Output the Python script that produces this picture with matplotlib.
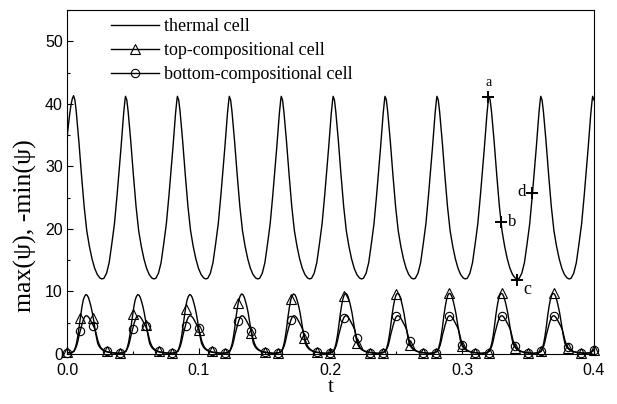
import matplotlib
matplotlib.use('Agg')
import matplotlib.pyplot as plt
from matplotlib.lines import Line2D
from matplotlib.ticker import MultipleLocator, FormatStrFormatter

# ---------------- data ----------------
thermal_t = [
    0.000, 0.001, 0.002, 0.003, 0.004,
    0.005, 0.006, 0.007, 0.008, 0.009, 0.011, 0.013, 0.015, 0.017, 0.019, 0.021, 0.023, 0.025, 0.0265, 0.028, 0.030, 0.032, 0.034, 0.036, 0.038, 0.040, 0.041, 0.042, 0.043, 0.044,
    0.0444, 0.0454, 0.0464, 0.0474, 0.0484, 0.0504, 0.0524, 0.0544, 0.0564, 0.0584, 0.0604, 0.0624, 0.0644, 0.0659, 0.0674, 0.0694, 0.0714, 0.0734, 0.0754, 0.0774, 0.0794, 0.0804, 0.0814, 0.0824, 0.0834,
    0.0838, 0.0848, 0.0858, 0.0868, 0.0878, 0.0898, 0.0918, 0.0938, 0.0958, 0.0978, 0.0998, 0.1018, 0.1038, 0.1053, 0.1068, 0.1088, 0.1108, 0.1128, 0.1148, 0.1168, 0.1188, 0.1198, 0.1208, 0.1218, 0.1228,
    0.1232, 0.1242, 0.1252, 0.1262, 0.1272, 0.1292, 0.1312, 0.1332, 0.1352, 0.1372, 0.1392, 0.1412, 0.1432, 0.1447, 0.1462, 0.1482, 0.1502, 0.1522, 0.1542, 0.1562, 0.1582, 0.1592, 0.1602, 0.1612, 0.1622,
    0.1626, 0.1636, 0.1646, 0.1656, 0.1666, 0.1686, 0.1706, 0.1726, 0.1746, 0.1766, 0.1786, 0.1806, 0.1826, 0.1841, 0.1856, 0.1876, 0.1896, 0.1916, 0.1936, 0.1956, 0.1976, 0.1986, 0.1996, 0.2006, 0.2016,
    0.2020, 0.2030, 0.2040, 0.2050, 0.2060, 0.2080, 0.2100, 0.2120, 0.2140, 0.2160, 0.2180, 0.2200, 0.2220, 0.2235, 0.2250, 0.2270, 0.2290, 0.2310, 0.2330, 0.2350, 0.2370, 0.2380, 0.2390, 0.2400, 0.2410,
    0.2414, 0.2424, 0.2434, 0.2444, 0.2454, 0.2474, 0.2494, 0.2514, 0.2534, 0.2554, 0.2574, 0.2594, 0.2614, 0.2629, 0.2644, 0.2664, 0.2684, 0.2704, 0.2724, 0.2744, 0.2764, 0.2774, 0.2784, 0.2794, 0.2804,
    0.2808, 0.2818, 0.2828, 0.2838, 0.2848, 0.2868, 0.2888, 0.2908, 0.2928, 0.2948, 0.2968, 0.2988, 0.3008, 0.3023, 0.3038, 0.3058, 0.3078, 0.3098, 0.3118, 0.3138, 0.3158, 0.3168, 0.3178, 0.3188, 0.3198,
    0.3202, 0.3212, 0.3222, 0.3232, 0.3242, 0.3262, 0.3282, 0.3302, 0.3322, 0.3342, 0.3362, 0.3382, 0.3402, 0.3417, 0.3432, 0.3452, 0.3472, 0.3492, 0.3512, 0.3532, 0.3552, 0.3562, 0.3572, 0.3582, 0.3592,
    0.3596, 0.3606, 0.3616, 0.3626, 0.3636, 0.3656, 0.3676, 0.3696, 0.3716, 0.3736, 0.3756, 0.3776, 0.3796, 0.3811, 0.3826, 0.3846, 0.3866, 0.3886, 0.3906, 0.3926, 0.3946, 0.3956, 0.3966, 0.3976, 0.3986,
    0.3990, 0.4000,
]
thermal_v = [
    34.5, 36.5, 38.3, 39.8, 40.8,
    41.3, 40.6, 38.8, 36.4, 34.0, 28.6, 23.6, 19.7, 17.2, 15.2, 13.7, 12.7, 12.15, 12.0, 12.1, 12.9, 14.6, 17.6, 20.8, 25.4, 30.4, 33.0, 35.8, 38.5, 40.6,
    41.2, 40.6, 38.8, 36.4, 34.0, 28.6, 23.6, 19.7, 17.2, 15.2, 13.7, 12.7, 12.15, 12.0, 12.1, 12.9, 14.6, 17.6, 20.8, 25.4, 30.4, 33.0, 35.8, 38.5, 40.6,
    41.2, 40.6, 38.8, 36.4, 34.0, 28.6, 23.6, 19.7, 17.2, 15.2, 13.7, 12.7, 12.15, 12.0, 12.1, 12.9, 14.6, 17.6, 20.8, 25.4, 30.4, 33.0, 35.8, 38.5, 40.6,
    41.2, 40.6, 38.8, 36.4, 34.0, 28.6, 23.6, 19.7, 17.2, 15.2, 13.7, 12.7, 12.15, 12.0, 12.1, 12.9, 14.6, 17.6, 20.8, 25.4, 30.4, 33.0, 35.8, 38.5, 40.6,
    41.2, 40.6, 38.8, 36.4, 34.0, 28.6, 23.6, 19.7, 17.2, 15.2, 13.7, 12.7, 12.15, 12.0, 12.1, 12.9, 14.6, 17.6, 20.8, 25.4, 30.4, 33.0, 35.8, 38.5, 40.6,
    41.2, 40.6, 38.8, 36.4, 34.0, 28.6, 23.6, 19.7, 17.2, 15.2, 13.7, 12.7, 12.15, 12.0, 12.1, 12.9, 14.6, 17.6, 20.8, 25.4, 30.4, 33.0, 35.8, 38.5, 40.6,
    41.2, 40.6, 38.8, 36.4, 34.0, 28.6, 23.6, 19.7, 17.2, 15.2, 13.7, 12.7, 12.15, 12.0, 12.1, 12.9, 14.6, 17.6, 20.8, 25.4, 30.4, 33.0, 35.8, 38.5, 40.6,
    41.2, 40.6, 38.8, 36.4, 34.0, 28.6, 23.6, 19.7, 17.2, 15.2, 13.7, 12.7, 12.15, 12.0, 12.1, 12.9, 14.6, 17.6, 20.8, 25.4, 30.4, 33.0, 35.8, 38.5, 40.6,
    41.2, 40.6, 38.8, 36.4, 34.0, 28.6, 23.6, 19.7, 17.2, 15.2, 13.7, 12.7, 12.15, 12.0, 12.1, 12.9, 14.6, 17.6, 20.8, 25.4, 30.4, 33.0, 35.8, 38.5, 40.6,
    41.2, 40.6, 38.8, 36.4, 34.0, 28.6, 23.6, 19.7, 17.2, 15.2, 13.7, 12.7, 12.15, 12.0, 12.1, 12.9, 14.6, 17.6, 20.8, 25.4, 30.4, 33.0, 35.8, 38.5, 40.6,
    41.2, 40.6,
]

comp_t = [
    0.0000, 0.0033, 0.0053, 0.0063, 0.0073, 0.0083, 0.0093, 0.0103, 0.0113, 0.0123, 0.0133, 0.0143, 0.0153, 0.0163, 0.0173, 0.0183, 0.0193, 0.0203, 0.0213, 0.0223, 0.0233, 0.0243, 0.0253, 0.0263, 0.0273, 0.0293, 0.0313, 0.0343,
    0.0387, 0.0427, 0.0447, 0.0457, 0.0467, 0.0477, 0.0487, 0.0497, 0.0507, 0.0517, 0.0527, 0.0537, 0.0547, 0.0557, 0.0567, 0.0577, 0.0587, 0.0597, 0.0607, 0.0617, 0.0627, 0.0637, 0.0647, 0.0657, 0.0667, 0.0687, 0.0707, 0.0737,
    0.0781, 0.0821, 0.0841, 0.0851, 0.0861, 0.0871, 0.0881, 0.0891, 0.0901, 0.0911, 0.0921, 0.0931, 0.0941, 0.0951, 0.0961, 0.0971, 0.0981, 0.0991, 0.1001, 0.1011, 0.1021, 0.1031, 0.1041, 0.1051, 0.1061, 0.1081, 0.1101, 0.1131,
    0.1175, 0.1215, 0.1235, 0.1245, 0.1255, 0.1265, 0.1275, 0.1285, 0.1295, 0.1305, 0.1315, 0.1325, 0.1335, 0.1345, 0.1355, 0.1365, 0.1375, 0.1385, 0.1395, 0.1405, 0.1415, 0.1425, 0.1435, 0.1445, 0.1455, 0.1475, 0.1495, 0.1525,
    0.1569, 0.1609, 0.1629, 0.1639, 0.1649, 0.1659, 0.1669, 0.1679, 0.1689, 0.1699, 0.1709, 0.1719, 0.1729, 0.1739, 0.1749, 0.1759, 0.1769, 0.1779, 0.1789, 0.1799, 0.1809, 0.1819, 0.1829, 0.1839, 0.1849, 0.1869, 0.1889, 0.1919,
    0.1963, 0.2003, 0.2023, 0.2033, 0.2043, 0.2053, 0.2063, 0.2073, 0.2083, 0.2093, 0.2103, 0.2113, 0.2123, 0.2133, 0.2143, 0.2153, 0.2163, 0.2173, 0.2183, 0.2193, 0.2203, 0.2213, 0.2223, 0.2233, 0.2243, 0.2263, 0.2283, 0.2313,
    0.2357, 0.2397, 0.2417, 0.2427, 0.2437, 0.2447, 0.2457, 0.2467, 0.2477, 0.2487, 0.2497, 0.2507, 0.2517, 0.2527, 0.2537, 0.2547, 0.2557, 0.2567, 0.2577, 0.2587, 0.2597, 0.2607, 0.2617, 0.2627, 0.2637, 0.2657, 0.2677, 0.2707,
    0.2751, 0.2791, 0.2811, 0.2821, 0.2831, 0.2841, 0.2851, 0.2861, 0.2871, 0.2881, 0.2891, 0.2901, 0.2911, 0.2921, 0.2931, 0.2941, 0.2951, 0.2961, 0.2971, 0.2981, 0.2991, 0.3001, 0.3011, 0.3021, 0.3031, 0.3051, 0.3071, 0.3101,
    0.3145, 0.3185, 0.3205, 0.3215, 0.3225, 0.3235, 0.3245, 0.3255, 0.3265, 0.3275, 0.3285, 0.3295, 0.3305, 0.3315, 0.3325, 0.3335, 0.3345, 0.3355, 0.3365, 0.3375, 0.3385, 0.3395, 0.3405, 0.3415, 0.3425, 0.3445, 0.3465, 0.3495,
    0.3539, 0.3579, 0.3599, 0.3609, 0.3619, 0.3629, 0.3639, 0.3649, 0.3659, 0.3669, 0.3679, 0.3689, 0.3699, 0.3709, 0.3719, 0.3729, 0.3739, 0.3749, 0.3759, 0.3769, 0.3779, 0.3789, 0.3799, 0.3809, 0.3819, 0.3839, 0.3859, 0.3889,
    0.3933, 0.3973, 0.4000,
]
top_v = [
    0.2, 0.2, 0.5, 1.0, 1.8, 3.0, 4.5, 6.1, 7.5, 8.6, 9.2, 9.5, 9.4, 9.0, 8.3, 7.5, 6.5, 5.3, 3.9, 2.7, 1.7, 1.25, 0.95, 0.75, 0.6, 0.4, 0.3, 0.2,
    0.1, 0.2, 0.5, 1.0, 1.8, 3.0, 4.5, 6.1, 7.5, 8.6, 9.2, 9.5, 9.4, 9.0, 8.3, 7.5, 6.5, 5.3, 3.9, 2.7, 1.7, 1.25, 0.95, 0.75, 0.6, 0.4, 0.3, 0.2,
    0.1, 0.2, 0.5, 1.0, 1.8, 3.0, 4.5, 6.1, 7.5, 8.6, 9.2, 9.5, 9.4, 9.0, 8.3, 7.5, 6.5, 5.3, 3.9, 2.7, 1.7, 1.25, 0.95, 0.75, 0.6, 0.4, 0.3, 0.2,
    0.1, 0.2, 0.5, 1.0, 1.8, 3.0, 4.5, 6.2, 7.6, 8.7, 9.3, 9.6, 9.5, 9.1, 8.4, 7.6, 6.6, 5.3, 3.9, 2.7, 1.7, 1.25, 0.95, 0.75, 0.6, 0.4, 0.3, 0.2,
    0.1, 0.2, 0.5, 1.0, 1.8, 3.0, 4.5, 6.2, 7.6, 8.7, 9.3, 9.6, 9.5, 9.1, 8.4, 7.6, 6.6, 5.3, 3.9, 2.7, 1.7, 1.25, 0.95, 0.75, 0.6, 0.4, 0.3, 0.2,
    0.1, 0.2, 0.5, 1.0, 1.8, 3.0, 4.5, 6.2, 7.6, 8.7, 9.4, 9.7, 9.6, 9.2, 8.5, 7.6, 6.6, 5.3, 3.9, 2.7, 1.7, 1.25, 0.95, 0.75, 0.6, 0.4, 0.3, 0.2,
    0.1, 0.2, 0.5, 1.0, 1.8, 3.0, 4.5, 6.2, 7.6, 8.7, 9.4, 9.7, 9.6, 9.2, 8.5, 7.6, 6.6, 5.3, 3.9, 2.7, 1.7, 1.25, 0.95, 0.75, 0.6, 0.4, 0.3, 0.2,
    0.1, 0.2, 0.5, 1.0, 1.8, 3.0, 4.5, 6.2, 7.6, 8.7, 9.4, 9.7, 9.6, 9.2, 8.5, 7.6, 6.6, 5.3, 3.9, 2.7, 1.7, 1.25, 0.95, 0.75, 0.6, 0.4, 0.3, 0.2,
    0.1, 0.2, 0.5, 1.0, 1.8, 3.0, 4.5, 6.2, 7.6, 8.7, 9.4, 9.7, 9.6, 9.2, 8.5, 7.6, 6.6, 5.3, 3.9, 2.7, 1.7, 1.25, 0.95, 0.75, 0.6, 0.4, 0.3, 0.2,
    0.1, 0.2, 0.5, 1.0, 1.8, 3.0, 4.5, 6.2, 7.6, 8.7, 9.4, 9.7, 9.6, 9.2, 8.5, 7.6, 6.6, 5.3, 3.9, 2.7, 1.7, 1.25, 0.95, 0.75, 0.6, 0.4, 0.3, 0.2,
    0.1, 0.2, 0.7,
]
bottom_v = [
    0.2, 0.2, 0.4, 0.8, 1.3, 2.1, 3.1, 3.9, 4.7, 5.4, 5.9, 6.1, 6.1, 5.9, 5.6, 5.2, 4.8, 4.4, 3.9, 3.1, 2.2, 1.6, 1.15, 0.9, 0.7, 0.45, 0.3, 0.2,
    0.1, 0.2, 0.4, 0.8, 1.3, 2.1, 3.1, 3.9, 4.7, 5.4, 5.9, 6.1, 6.1, 5.9, 5.6, 5.2, 4.8, 4.4, 3.9, 3.1, 2.2, 1.6, 1.15, 0.9, 0.7, 0.45, 0.3, 0.2,
    0.1, 0.2, 0.4, 0.8, 1.3, 2.1, 3.1, 3.9, 4.7, 5.4, 5.9, 6.1, 6.1, 5.9, 5.6, 5.2, 4.8, 4.4, 3.9, 3.1, 2.2, 1.6, 1.15, 0.9, 0.7, 0.45, 0.3, 0.2,
    0.1, 0.2, 0.4, 0.8, 1.3, 2.1, 3.1, 3.9, 4.7, 5.4, 5.9, 6.1, 6.1, 5.9, 5.6, 5.2, 4.8, 4.4, 3.9, 3.1, 2.2, 1.6, 1.15, 0.9, 0.7, 0.45, 0.3, 0.2,
    0.1, 0.2, 0.4, 0.8, 1.3, 2.1, 3.1, 3.9, 4.7, 5.4, 5.9, 6.1, 6.1, 5.9, 5.6, 5.2, 4.8, 4.4, 3.9, 3.1, 2.2, 1.6, 1.15, 0.9, 0.7, 0.45, 0.3, 0.2,
    0.1, 0.2, 0.4, 0.8, 1.3, 2.1, 3.1, 3.9, 4.7, 5.4, 5.9, 6.1, 6.1, 5.9, 5.6, 5.2, 4.8, 4.4, 3.9, 3.1, 2.2, 1.6, 1.15, 0.9, 0.7, 0.45, 0.3, 0.2,
    0.1, 0.2, 0.4, 0.8, 1.3, 2.1, 3.1, 3.9, 4.7, 5.4, 5.9, 6.1, 6.1, 5.9, 5.6, 5.2, 4.8, 4.4, 3.9, 3.1, 2.2, 1.6, 1.15, 0.9, 0.7, 0.45, 0.3, 0.2,
    0.1, 0.2, 0.4, 0.8, 1.3, 2.1, 3.1, 3.9, 4.7, 5.4, 5.9, 6.1, 6.1, 5.9, 5.6, 5.2, 4.8, 4.4, 3.9, 3.1, 2.2, 1.6, 1.15, 0.9, 0.7, 0.45, 0.3, 0.2,
    0.1, 0.2, 0.4, 0.8, 1.3, 2.1, 3.1, 3.9, 4.7, 5.4, 5.9, 6.1, 6.1, 5.9, 5.6, 5.2, 4.8, 4.4, 3.9, 3.1, 2.2, 1.6, 1.15, 0.9, 0.7, 0.45, 0.3, 0.2,
    0.1, 0.2, 0.4, 0.8, 1.3, 2.1, 3.1, 3.9, 4.7, 5.4, 5.9, 6.1, 6.1, 5.9, 5.6, 5.2, 4.8, 4.4, 3.9, 3.1, 2.2, 1.6, 1.15, 0.9, 0.7, 0.45, 0.3, 0.2,
    0.1, 0.2, 0.6,
]

marker_t = [0.00, 0.01, 0.02, 0.03, 0.04, 0.05, 0.06, 0.07, 0.08, 0.09,
            0.10, 0.11, 0.12, 0.13, 0.14, 0.15, 0.16, 0.17, 0.18, 0.19,
            0.20, 0.21, 0.22, 0.23, 0.24, 0.25, 0.26, 0.27, 0.28, 0.29,
            0.30, 0.31, 0.32, 0.33, 0.34, 0.35, 0.36, 0.37, 0.38, 0.39, 0.40]
top_markers = [0.3, 5.8, 5.7, 0.4, 0.2, 6.4, 4.7, 0.5, 0.2, 7.2,
               3.9, 0.4, 0.2, 8.2, 3.4, 0.3, 0.2, 8.8, 2.6, 0.3,
               0.1, 9.3, 1.8, 0.2, 0.1, 9.6, 1.4, 0.2, 0.1, 9.7,
               1.2, 0.2, 0.1, 9.7, 1.0, 0.2, 0.5, 9.7, 0.9, 0.2, 0.6]
bottom_markers = [0.2, 3.7, 4.5, 0.4, 0.1, 4.0, 4.5, 0.5, 0.1, 4.5,
                  4.1, 0.4, 0.1, 5.2, 3.7, 0.3, 0.1, 5.4, 3.1, 0.3,
                  0.1, 5.7, 2.5, 0.2, 0.1, 6.1, 2.1, 0.2, 0.1, 6.1,
                  1.5, 0.2, 0.1, 6.1, 1.2, 0.2, 0.5, 6.1, 1.1, 0.2, 0.6]

point_labels = ['a', 'b', 'c', 'd']
point_t = [0.3198, 0.3292, 0.3413, 0.3532]
point_v = [41.1, 21.1, 11.9, 25.7]

series_labels = ['thermal cell', 'top-compositional cell', 'bottom-compositional cell']

# ---------------- figure ----------------
SERIF = ['Liberation Serif', 'DejaVu Serif']
SANS = ['Liberation Sans', 'DejaVu Sans']

fig = plt.figure(figsize=(6.17, 4.04), dpi=100)
ax = fig.add_axes([0.1086, 0.1238, 0.8541, 0.8514])

ax.plot(thermal_t, thermal_v, color='k', lw=1.0)
ax.plot(comp_t, top_v, color='k', lw=1.0)
ax.plot(comp_t, bottom_v, color='k', lw=1.0)
ax.plot(marker_t, top_markers, ls='none', marker='^', ms=6.5, mfc='none',
        mec='k', mew=0.8, clip_on=False)
ax.plot(marker_t, bottom_markers, ls='none', marker='o', ms=6.0, mfc='none',
        mec='k', mew=0.8, clip_on=False)
ax.plot(point_t, point_v, ls='none', marker='+', ms=9, mew=1.4, color='k')

offsets = [(0, 6), (5, 0), (5, -7), (-5, 1)]
aligns = [('center', 'bottom'), ('left', 'center'), ('left', 'center'), ('right', 'center')]
sizes = [10, 12, 13, 12]
for lab, t, v, off, (ha, va), fs in zip(point_labels, point_t, point_v, offsets, aligns, sizes):
    ax.annotate(lab, (t, v), xytext=off, textcoords='offset points',
                ha=ha, va=va, fontsize=fs, family=SERIF)

ax.set_xlim(0, 0.4)
ax.set_ylim(0, 55)
ax.xaxis.set_major_locator(MultipleLocator(0.1))
ax.xaxis.set_minor_locator(MultipleLocator(0.05))
ax.yaxis.set_major_locator(MultipleLocator(10))
ax.yaxis.set_minor_locator(MultipleLocator(5))
ax.xaxis.set_major_formatter(FormatStrFormatter('%.1f'))
ax.yaxis.set_major_formatter(FormatStrFormatter('%d'))
ax.tick_params(which='both', direction='in', top=False, right=False, width=0.8)
ax.tick_params(which='major', length=4, labelsize=11.5)
ax.tick_params(which='minor', length=2.5)
ax.tick_params(axis='x', which='major', pad=6.5)
ax.tick_params(axis='y', which='major', pad=3)
for lbl in ax.get_xticklabels() + ax.get_yticklabels():
    lbl.set_family(SANS)
for s in ax.spines.values():
    s.set_linewidth(0.8)

ax.set_xlabel('t', family=SERIF, fontsize=15, labelpad=0)
ax.set_ylabel('max(ψ), -min(ψ)', family=SERIF, fontsize=18.5)
ax.yaxis.set_label_coords(-0.056, 0.372)

handles = [
    Line2D([], [], color='k', lw=1.0),
    Line2D([], [], color='k', lw=1.0, marker='^', ms=6.5, mfc='none', mew=0.8),
    Line2D([], [], color='k', lw=1.0, marker='o', ms=6.0, mfc='none', mew=0.8),
]
ax.legend(handles, series_labels, loc='upper left', bbox_to_anchor=(0.0835, 0.977),
          frameon=False, prop={'family': SERIF, 'size': 13}, handlelength=2.65,
          handletextpad=0.3, labelspacing=0.39, borderpad=0, borderaxespad=0)

fig.savefig('out.png', dpi=100)
